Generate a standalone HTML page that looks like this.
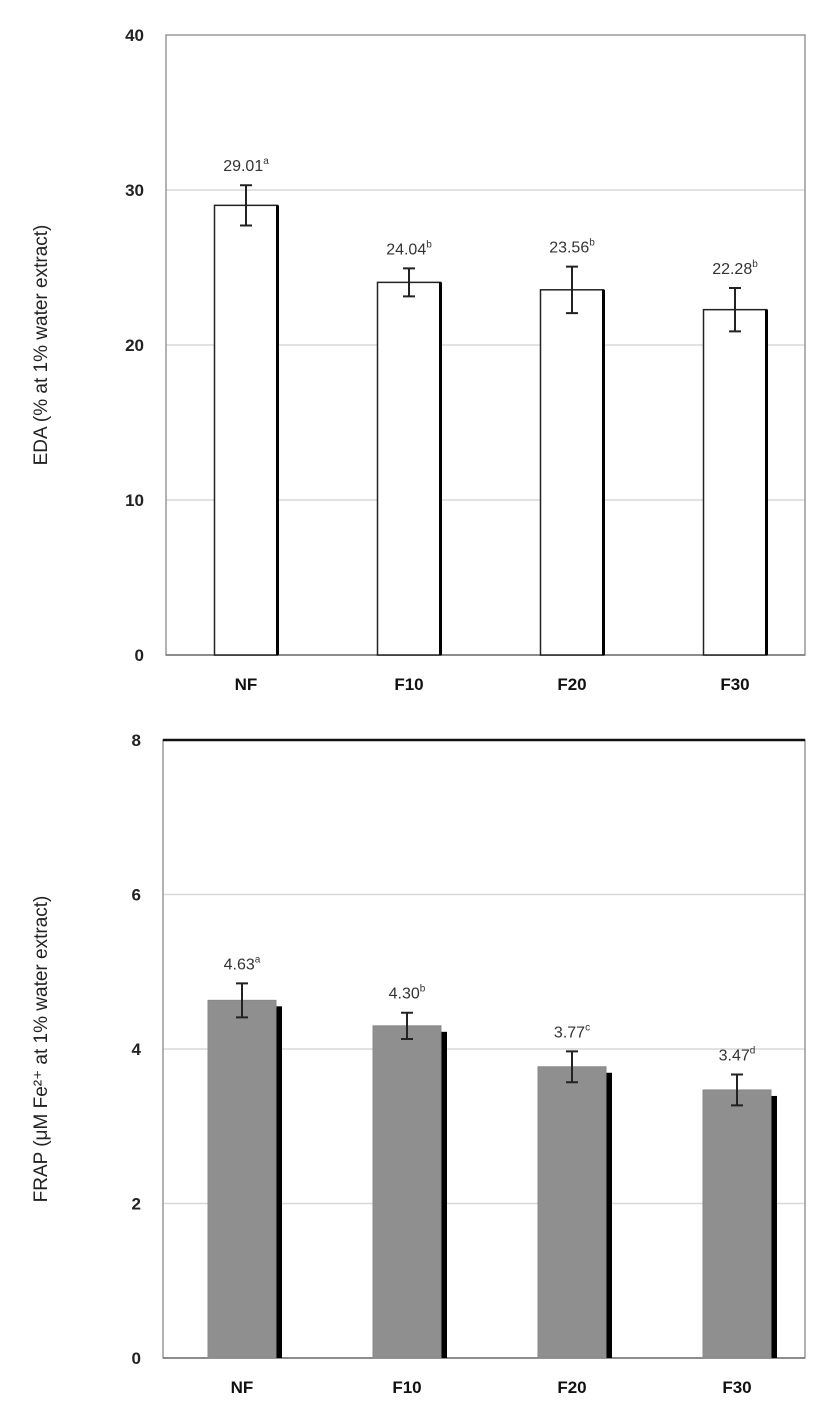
<!DOCTYPE html>
<html><head><meta charset="utf-8"><style>
body{margin:0;background:#fff;}
svg{display:block;font-family:"Liberation Sans",sans-serif;}
</style></head><body>
<svg id="c" width="827" height="1409"></svg>
<script>
const categories=["NF","F10","F20","F30"];
const edaValues=[29.01,24.04,23.56,22.28];
const edaErrors=[1.3,0.9,1.5,1.4];
const edaLetters=["a","b","b","b"];
const edaTicks=[0,10,20,30,40];
const frapValues=[4.63,4.30,3.77,3.47];
const frapErrors=[0.22,0.17,0.2,0.2];
const frapLetters=["a","b","c","d"];
const frapTicks=[0,2,4,6,8];
const NS="http://www.w3.org/2000/svg";
const svg=document.getElementById('c');
function mk(t,a,p){const e=document.createElementNS(NS,t);for(const k in a)e.setAttribute(k,a[k]);(p||svg).appendChild(e);return e;}
function chart(o){
  const g=mk('g',{});
  
  
  const y=v=>o.y0-(v-o.min)/(o.max-o.min)*(o.y0-o.y1);
  o.ticks.forEach(t=>{
    if(t>o.min&&t<o.max){const l=mk('line',{x1:o.x0,x2:o.x2,y1:y(t),y2:y(t),stroke:'#d8d8d8','stroke-width':1.5},g);
    }
    const tx=mk('text',{x:o.x0-22,y:y(t)+6,'text-anchor':'end','font-size':17,'font-weight':'bold',fill:'#222'},g);
    tx.textContent=t;
    
    
  });
  const fr=mk('rect',{x:o.x0,y:o.y1,width:o.x2-o.x0,height:o.y0-o.y1,fill:'none',stroke:'#999','stroke-width':1.5},g);
  
  if(o.topBlack){const tl=mk('line',{x1:o.x0,x2:o.x2,y1:o.y1,y2:o.y1,stroke:'#111','stroke-width':2.5},g);
    }
  const ax=mk('line',{x1:o.x0,x2:o.x2,y1:o.y0,y2:o.y0,stroke:'#777','stroke-width':1.5},g);
  
  categories.forEach((c,i)=>{
    const cx=o.first+o.step*i;
    const v=o.vals[i],e=o.errs[i];
    const bx=cx-o.bw/2;
    if(o.fill!=='#fff'){const sh=mk('rect',{x:bx+6,y:y(v)+6,width:o.bw,height:o.y0-y(v)-6,fill:'#000'},g);
      }
    const b=mk('rect',{x:bx,y:y(v),width:o.bw,height:o.y0-y(v),fill:o.fill,stroke:o.fill==='#fff'?'#222':'#888','stroke-width':o.fill==='#fff'?1.5:1},g);
    
    
    if(o.fill==='#fff'){mk('line',{x1:bx+o.bw,x2:bx+o.bw,y1:y(v),y2:o.y0,stroke:'#000','stroke-width':3},g);}
    const eb=mk('path',{d:`M${cx} ${y(v+e)}V${y(v-e)}M${cx-6} ${y(v+e)}H${cx+6}M${cx-6} ${y(v-e)}H${cx+6}`,stroke:'#222','stroke-width':2,fill:'none'},g);
    
    const lb=mk('text',{x:cx,y:y(v+e)-14,'text-anchor':'middle','font-size':16,fill:'#333'},g);
    lb.textContent=v.toFixed(2);
    const sp=mk('tspan',{dy:-7,'font-size':10},lb);sp.textContent=o.letters[i];
    
    const xl=mk('text',{x:cx,y:o.y0+35,'text-anchor':'middle','font-size':17,'font-weight':'bold',fill:'#111'},g);
    xl.textContent=c;
    
  });
  const yt=mk('text',{x:0,y:0,'text-anchor':'middle','font-size':19,fill:'#222',transform:`translate(${o.tx},${(o.y0+o.y1)/2}) rotate(-90)`},g);
  yt.textContent=o.title;
  
}
chart({name:'eda-chart',x0:166,x2:805,y0:655,y1:35,min:0,max:40,ticks:edaTicks,vals:edaValues,errs:edaErrors,letters:edaLetters,bw:63,first:246,step:163,fill:'#fff',title:'EDA (% at 1% water extract)',tx:47});
chart({name:'frap-chart',x0:163,x2:805,y0:1358,y1:740,min:0,max:8,ticks:frapTicks,vals:frapValues,errs:frapErrors,letters:frapLetters,bw:68,first:242,step:165,fill:'#8f8f8f',title:'FRAP (μM Fe²⁺ at 1% water extract)',tx:47,topBlack:true});
</script>
</body></html>
